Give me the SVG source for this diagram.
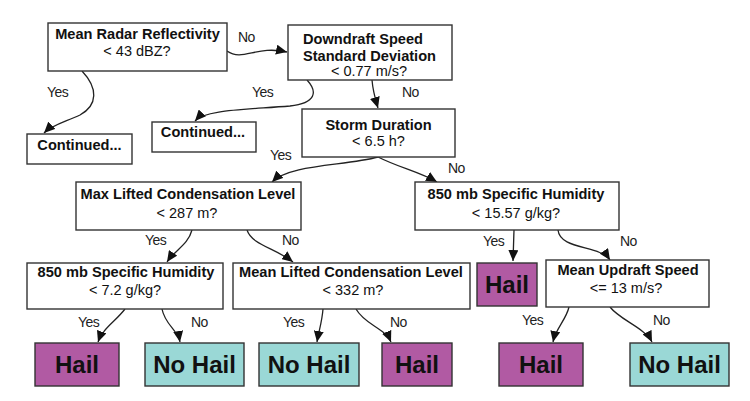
<svg xmlns="http://www.w3.org/2000/svg" width="750" height="401" viewBox="0 0 750 401">
<style>
.box{fill:#fff;stroke:#333;stroke-width:1.4}
.hail{fill:#B15AA3;stroke:#333;stroke-width:1.4}
.nohail{fill:#9AD8D6;stroke:#333;stroke-width:1.4}
.t{font-family:"Liberation Sans",Arial,sans-serif;fill:#111}
.b{font-weight:bold;font-size:14.6px}
.r{font-size:14.5px}
.leaf{font-weight:bold;font-size:24px;text-anchor:middle}
.c{text-anchor:middle}
.lbl{font-family:"Liberation Sans",Arial,sans-serif;font-size:14px;fill:#222;letter-spacing:-0.5px}
.e{fill:none;stroke:#222;stroke-width:1.3;marker-end:url(#ah)}
</style>
<defs>
<marker id="ah" markerUnits="userSpaceOnUse" markerWidth="12" markerHeight="10" refX="11" refY="5" orient="auto">
<path d="M0,0 L11,5 L0,10 Z" fill="#111"/>
</marker>
</defs>
<rect width="750" height="401" fill="#fff"/>
<g id="connectors">
<path class="e" d="M227,51 C243,62 256,45 287,52"/>
<path class="e" d="M82,71 C98,88 98,105 80,115 C65,122 52,125 44,133"/>
<path class="e" d="M307,80 C318,92 316,103 290,106 C240,110 205,110 195,121"/>
<path class="e" d="M372,80 C373,92 375,98 378,108"/>
<path class="e" d="M378,157 C345,166 290,164 272,182"/>
<path class="e" d="M378,157 C400,168 420,172 437,182"/>
<path class="e" d="M192,230 C188,245 175,250 167,262"/>
<path class="e" d="M247,230 C252,245 275,248 293,262"/>
<path class="e" d="M514,230 L513,261"/>
<path class="e" d="M558,230 C560,250 600,245 610,260"/>
<path class="e" d="M125,309 C115,322 103,328 98,342"/>
<path class="e" d="M162,309 C165,325 178,330 180,342"/>
<path class="e" d="M323,309 C322,322 319,330 317,342"/>
<path class="e" d="M356,309 C365,325 385,328 391,342"/>
<path class="e" d="M569,307 C566,320 556,328 553,342"/>
<path class="e" d="M610,307 C620,320 645,328 652,342"/>
<text class="lbl" x="238" y="42">No</text>
<text class="lbl" x="47" y="97">Yes</text>
<text class="lbl" x="252" y="97">Yes</text>
<text class="lbl" x="402" y="97">No</text>
<text class="lbl" x="270" y="160">Yes</text>
<text class="lbl" x="448" y="173">No</text>
<text class="lbl" x="145" y="245">Yes</text>
<text class="lbl" x="282" y="245">No</text>
<text class="lbl" x="483" y="246">Yes</text>
<text class="lbl" x="620" y="246">No</text>
<text class="lbl" x="78" y="327">Yes</text>
<text class="lbl" x="191" y="327">No</text>
<text class="lbl" x="283" y="327">Yes</text>
<text class="lbl" x="390" y="327">No</text>
<text class="lbl" x="522" y="325">Yes</text>
<text class="lbl" x="653" y="325">No</text>
</g>
<g id="mrr">
<rect class="box" x="48" y="23" width="179" height="48"/>
<text class="t b c" x="137.5" y="39">Mean Radar Reflectivity</text>
<text class="t r c" x="137" y="56">&lt; 43 dBZ?</text>
</g>
<g id="dssd">
<rect class="box" x="288" y="25" width="164" height="55"/>
<text class="t b" x="303" y="44">Downdraft Speed</text>
<text class="t b" x="303" y="61">Standard Deviation</text>
<text class="t r c" x="369" y="76">&lt; 0.77 m/s?</text>
</g>
<g id="cont1">
<rect class="box" x="27" y="134" width="105" height="30"/>
<text class="t b c" x="79.5" y="150">Continued...</text>
</g>
<g id="cont2">
<rect class="box" x="152" y="122" width="104" height="30"/>
<text class="t b c" x="203" y="137">Continued...</text>
</g>
<g id="storm">
<rect class="box" x="302" y="109" width="153" height="48"/>
<text class="t b c" x="378.5" y="130">Storm Duration</text>
<text class="t r c" x="378.5" y="146">&lt; 6.5 h?</text>
</g>
<g id="maxlcl">
<rect class="box" x="76" y="182" width="225" height="48"/>
<text class="t b c" x="188" y="199">Max Lifted Condensation Level</text>
<text class="t r c" x="187" y="218">&lt; 287 m?</text>
</g>
<g id="sh850r">
<rect class="box" x="415" y="182" width="204" height="48"/>
<text class="t b c" x="516" y="199">850 mb Specific Humidity</text>
<text class="t r c" x="516" y="218">&lt; 15.57 g/kg?</text>
</g>
<g id="sh850l">
<rect class="box" x="27" y="263" width="196" height="46"/>
<text class="t b c" x="126" y="277">850 mb Specific Humidity</text>
<text class="t r c" x="125" y="295">&lt; 7.2 g/kg?</text>
</g>
<g id="mlcl">
<rect class="box" x="233" y="263" width="237" height="46"/>
<text class="t b c" x="351" y="277">Mean Lifted Condensation Level</text>
<text class="t r c" x="353" y="295">&lt; 332 m?</text>
</g>
<g id="hailmid">
<rect class="hail" x="477" y="263" width="60" height="43"/>
<text class="t leaf" x="507" y="293">Hail</text>
</g>
<g id="mus">
<rect class="box" x="546" y="260" width="163" height="47"/>
<text class="t b c" x="628" y="275">Mean Updraft Speed</text>
<text class="t r c" x="626" y="293">&lt;= 13 m/s?</text>
</g>
<g id="leaf1">
<rect class="hail" x="35" y="343" width="84" height="43"/>
<text class="t leaf" x="77" y="373">Hail</text>
</g>
<g id="leaf2">
<rect class="nohail" x="145" y="343" width="99" height="43"/>
<text class="t leaf" x="194.5" y="373">No Hail</text>
</g>
<g id="leaf3">
<rect class="nohail" x="259" y="343" width="100" height="43"/>
<text class="t leaf" x="309" y="373">No Hail</text>
</g>
<g id="leaf4">
<rect class="hail" x="382" y="343" width="70" height="43"/>
<text class="t leaf" x="417" y="373">Hail</text>
</g>
<g id="leaf5">
<rect class="hail" x="499" y="343" width="84" height="43"/>
<text class="t leaf" x="541" y="373">Hail</text>
</g>
<g id="leaf6">
<rect class="nohail" x="630" y="343" width="99" height="43"/>
<text class="t leaf" x="679.5" y="373">No Hail</text>
</g>
</svg>
